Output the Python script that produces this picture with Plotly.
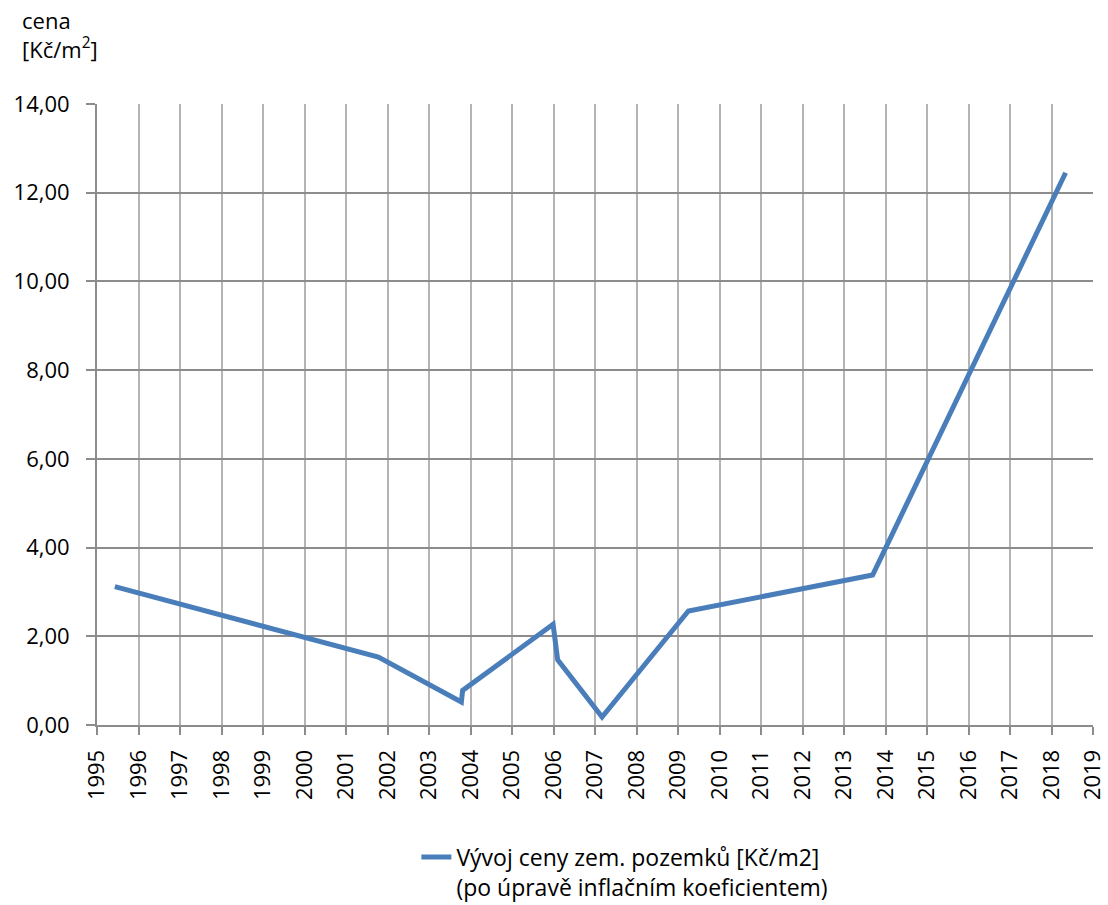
import plotly.graph_objects as go

years = [1995.43, 2001.78, 2003.78, 2003.81, 2005.99, 2006.10, 2007.17, 2009.25, 2013.69, 2018.34]
prices = [3.12, 1.53, 0.52, 0.78, 2.27, 1.47, 0.18, 2.57, 3.38, 12.45]
series_name = "Vývoj ceny zem. pozemků [Kč/m2]<br>(po úpravě inflačním koeficientem)"
y_title = "cena<br>[Kč/m<sup>2</sup>]"

FONT = "Open Sans"
FS = 22

fig = go.Figure()
fig.add_trace(go.Scatter(
    x=years, y=prices, mode="lines", name=series_name,
    line=dict(color="#4a7ebb", width=5),
    showlegend=True,
))

fig.update_layout(
    width=1108, height=905,
    margin=dict(l=97, r=15, t=104, b=179.5, autoexpand=False),
    paper_bgcolor="white", plot_bgcolor="white",
    separators=", ",
    font=dict(family=FONT, size=FS, color="black"),
    showlegend=True,
    legend=dict(
        orientation="h", x=0.53, xanchor="center", y=-0.178, yanchor="top",
        font=dict(family=FONT, size=23, color="black"),
        valign="top",
    ),
    xaxis=dict(
        range=[1995, 2019], tick0=1995, dtick=1, tickangle=-90,
        showgrid=True, gridcolor="#b4b4b4", gridwidth=2,
        showline=True, linecolor="#8c8c8c", linewidth=2,
        ticks="outside", ticklen=8, tickcolor="#8c8c8c", tickwidth=2,
        tickfont=dict(family=FONT, size=FS, color="black"),
        ticklabelstandoff=6,
        zeroline=False,
    ),
    yaxis=dict(
        range=[0, 14], tick0=0, dtick=2, tickformat=".2f",
        showgrid=True, gridcolor="#8c8c8c", gridwidth=2,
        showline=True, linecolor="#8c8c8c", linewidth=2,
        ticks="outside", ticklen=9, tickcolor="#8c8c8c", tickwidth=2,
        tickfont=dict(family=FONT, size=FS, color="black"),
        ticklabelstandoff=12,
        zeroline=False,
    ),
    annotations=[dict(
        text=y_title, xref="paper", yref="paper",
        x=-0.077, y=1.163, xanchor="left", yanchor="top",
        align="left", showarrow=False,
        font=dict(family=FONT, size=FS, color="black"),
    )],
)

fig.write_html("out.html")
